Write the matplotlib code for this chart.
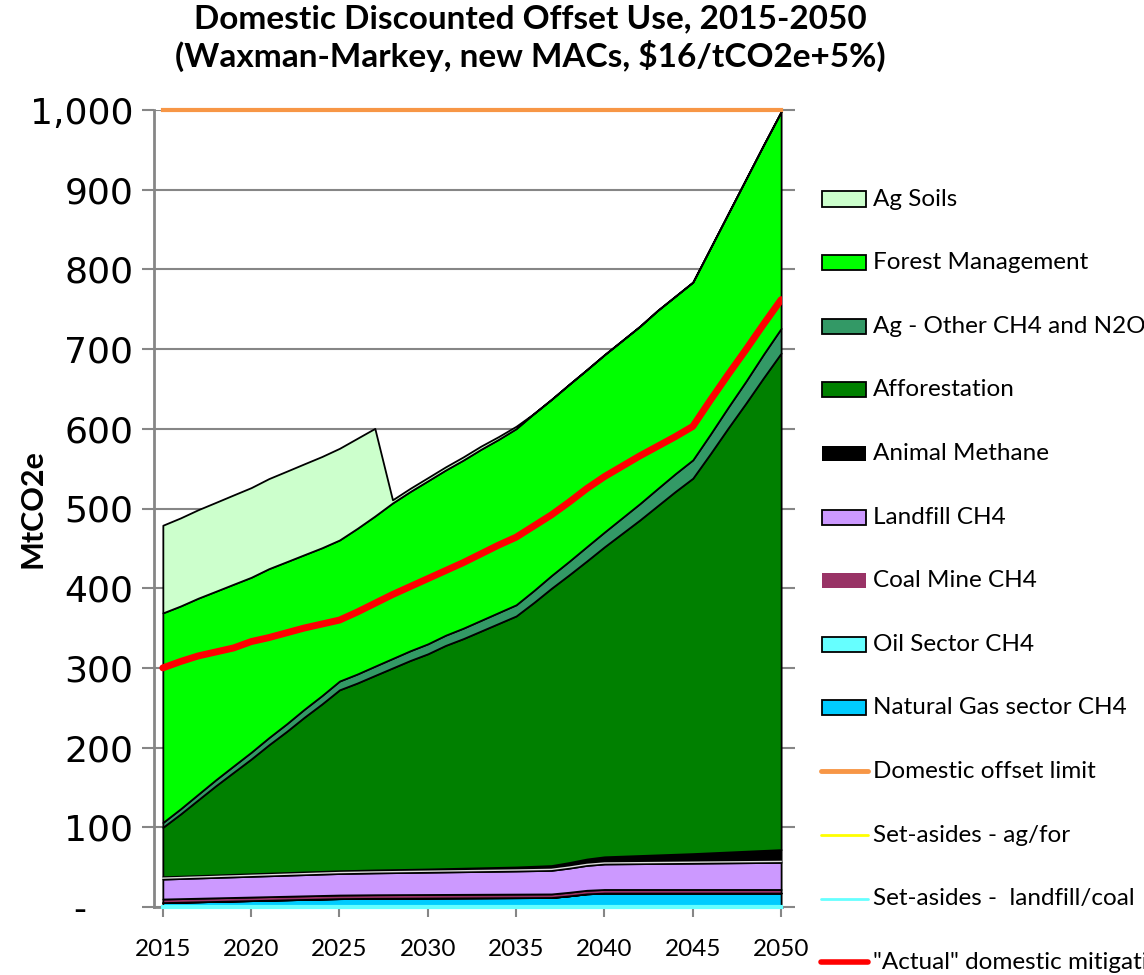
import matplotlib
matplotlib.use('Agg')
import matplotlib.pyplot as plt
from matplotlib.patches import Rectangle
from matplotlib.lines import Line2D
import numpy as np

# annual data, MtCO2e
years = list(range(2015, 2051))

nat_gas = [5.5, 6.0, 6.5, 7.0, 7.5, 8.0, 8.5, 9.0, 9.5, 10.0,
           10.5, 10.7, 10.9, 11.0, 11.1, 11.2, 11.3, 11.4, 11.5, 11.6,
           11.7, 11.8, 11.9, 14.0, 16.5, 17.5, 17.5, 17.5, 17.5, 17.5,
           17.5, 17.5, 17.5, 17.5, 17.5, 17.5]
oil_sector = [0] * 36
coal_mine = [4.5] * 36
landfill = [25.0, 25.2, 25.4, 25.6, 25.8, 26.0, 26.2, 26.4, 26.6, 26.8,
            27.0, 27.2, 27.4, 27.6, 27.8, 28.0, 28.2, 28.4, 28.6, 28.8,
            29.0, 29.3, 29.6, 30.3, 31.2, 32.0, 32.2, 32.4, 32.6, 32.8,
            33.0, 33.2, 33.4, 33.6, 33.8, 34.0]
animal_methane = [3.0, 3.0, 3.1, 3.1, 3.2, 3.2, 3.3, 3.3, 3.4, 3.4,
                  3.5, 3.6, 3.7, 3.8, 3.9, 4.0, 4.2, 4.4, 4.6, 4.8,
                  5.0, 5.5, 6.0, 7.0, 8.0, 9.0, 9.6, 10.2, 10.8, 11.4,
                  12.0, 12.8, 13.6, 14.4, 15.2, 16.0]
afforestation = [62, 78, 95, 112, 128, 144, 161, 177, 194, 210,
                 227, 235, 244, 253, 262, 270, 280, 288, 297, 306,
                 315, 331, 348, 361, 374, 389, 405, 421, 438, 455,
                 471, 501, 532, 562, 593, 623]
ag_other = [6.0, 6.5, 7.0, 7.5, 8.0, 8.5, 9.0, 9.5, 10.0, 10.5,
            11.0, 11.3, 11.6, 11.9, 12.2, 12.5, 12.8, 13.1, 13.4, 13.7,
            14.0, 15.0, 16.0, 17.0, 18.0, 18.5, 19.5, 20.5, 21.5, 22.3,
            23.0, 24.5, 26.0, 27.5, 29.5, 31.0]
forest_mgmt = [263, 254.5, 246, 236.5, 228, 219.5, 212, 203.5, 194, 185.5,
               177, 182.7, 188.4, 195.1, 199.8, 204.5, 207.2, 210.9, 214.6, 217.3,
               221, 222, 221, 222, 222, 222.5, 222.5, 222.5, 223.5, 222.7,
               223, 233.5, 243, 253.5, 262.5, 272]
ag_soils = [110, 110.5, 111, 111.5, 112, 112.5, 113, 113.5, 114, 114.5,
            115, 113, 110, 4, 4, 4, 4, 4, 4, 3.5,
            3, 0, 0, 0, 0, 0, 0, 0, 0, 0,
            0, 0, 0, 0, 0, 0]

offset_limit = [1000] * 36
setaside_agfor = [0] * 36
setaside_landfill = [0] * 36
actual_mitigation = [300, 308, 315, 320, 325, 333, 338, 344, 350, 355,
                     360, 370, 381, 392, 402, 412, 422, 432, 443, 454,
                     464, 478, 492, 508, 525, 540, 553, 566, 578, 590,
                     603, 636, 668, 699, 731, 762]

area_names = ['Natural Gas sector CH4', 'Oil Sector CH4', 'Coal Mine CH4',
              'Landfill CH4', 'Animal Methane', 'Afforestation',
              'Ag - Other CH4 and N2O', 'Forest Management', 'Ag Soils']
area_colors = ['#00CCFF', '#66FFFF', '#993366', '#CC99FF', '#000000',
               '#008000', '#339966', '#00FF00', '#CCFFCC']
line_names = ['Domestic offset limit', 'Set-asides - ag/for',
              'Set-asides -  landfill/coal', '"Actual" domestic mitigation']
line_colors = ['#F79646', '#FFFF00', '#66FFFF', '#FF0000']

W, H = 1144, 975
fig = plt.figure(figsize=(W / 100, H / 100), dpi=100)
ax = fig.add_axes([154 / W, 1 - 907 / H, (782 - 154) / W, (907 - 110) / H])

ax.stackplot(years, nat_gas, oil_sector, coal_mine, landfill, animal_methane,
             afforestation, ag_other, forest_mgmt, ag_soils,
             colors=area_colors, edgecolor='black', linewidth=1.3)

# light seam on top of the landfill band, as in the original
landfill_top = np.sum([nat_gas, oil_sector, coal_mine, landfill], axis=0)
ax.plot(years, landfill_top + 1.2, color='#DDDDDD', lw=1.0, zorder=3)

ax.plot(years, offset_limit, color=line_colors[0], lw=3, clip_on=False, zorder=5)
ax.plot(years, setaside_agfor, color=line_colors[1], lw=2, clip_on=False, zorder=5)
ax.plot(years, setaside_landfill, color=line_colors[2], lw=3, clip_on=False, zorder=5)
ax.plot(years, actual_mitigation, color=line_colors[3], lw=5,
        solid_capstyle='round', solid_joinstyle='round', zorder=6)

ax.set_xlim(2014.5, 2050.05)
ax.set_ylim(0, 1000)
ax.set_axisbelow(True)
ax.yaxis.grid(True, color='#868686', lw=1.5)

yt = list(range(0, 1001, 100))
ax.set_yticks(yt)
ax.set_yticklabels(['-    ' if v == 0 else f'{v:,}' for v in yt],
                   fontsize=26, family='DejaVu Sans')
ax.set_xticks(list(range(2015, 2051, 5)))
ax.set_xticklabels([str(y) for y in range(2015, 2051, 5)],
                   fontsize=17.5, family=['Lato', 'DejaVu Sans'])
ax.tick_params(axis='y', which='both', left=True, right=True, length=9,
               width=1.5, color='#868686', direction='out', pad=6)
ax.tick_params(axis='x', length=7, width=1.5, color='#868686',
               direction='out', pad=16)

for s in ['top', 'right']:
    ax.spines[s].set_visible(False)
for s in ['left', 'bottom']:
    ax.spines[s].set_color('#868686')
    ax.spines[s].set_linewidth(2)

ax.set_ylabel('MtCO2e', fontsize=22, fontweight='bold',
              family=['Lato', 'DejaVu Sans'])
ax.yaxis.set_label_coords((47 - 154) / (782 - 154), 0.5)

fig.text(530 / W, 1 - 38 / H,
         'Domestic Discounted Offset Use, 2015-2050\n(Waxman-Markey, new MACs, \\$16/tCO2e+5%)',
         ha='center', va='center', fontsize=24, fontweight='bold',
         family=['Lato', 'DejaVu Sans'], linespacing=1.25)

# legend drawn by hand so the rows line up like the original
legend_rows = [(n, c, 'patch') for n, c in zip(area_names[::-1], area_colors[::-1])]
legend_rows += [(n, c, 'line') for n, c in zip(line_names, line_colors)]
line_widths = [3.5, 2, 2, 4]
for i, (name, color, kind) in enumerate(legend_rows):
    yc = 1 - (199 + i * 63.6) / H
    if kind == 'patch':
        edge = 'none' if name in ('Coal Mine CH4', 'Animal Methane') else 'black'
        fig.add_artist(Rectangle((822 / W, yc - 7.5 / H), 44 / W, 15 / H,
                                 facecolor=color, edgecolor=edge, lw=1.3,
                                 transform=fig.transFigure))
    else:
        lw = line_widths[i - len(area_names)]
        fig.add_artist(Line2D([821 / W, 868 / W], [yc, yc], color=color, lw=lw,
                              solid_capstyle='round', transform=fig.transFigure))
    fig.text(873 / W, yc, name, ha='left', va='center', fontsize=17.5,
             family=['Lato', 'DejaVu Sans'])

fig.savefig('out.png', dpi=100)
